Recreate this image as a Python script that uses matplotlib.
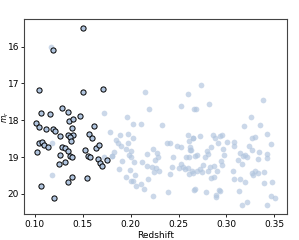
import matplotlib
matplotlib.use("Agg")
import matplotlib.pyplot as plt

# Bright / selected galaxies (dark-edged markers)
sel_z = [0.1504, 0.1191, 0.1042, 0.1498, 0.1710, 0.1060, 0.1157, 0.1279, 0.1341, 0.1473,
         0.1355, 0.1400, 0.1007, 0.1045, 0.1111, 0.1185, 0.1209, 0.1264, 0.1390, 0.1393,
         0.1348, 0.1370, 0.1379, 0.1619, 0.1567, 0.1595, 0.1042, 0.1070, 0.1097, 0.1136,
         0.1021, 0.1282, 0.1313, 0.1341, 0.1258, 0.1369, 0.1383, 0.1247, 0.1313, 0.1525,
         0.1557, 0.1577, 0.1640, 0.1668, 0.1654, 0.1678, 0.1699, 0.1755, 0.1383, 0.1344,
         0.1540, 0.1060, 0.1198]
sel_m = [15.50, 16.10, 17.18, 17.22, 17.16, 17.81, 17.84, 17.68, 17.78, 17.89,
         18.02, 17.97, 18.08, 18.17, 18.24, 18.24, 18.30, 18.43, 18.22, 18.40,
         18.40, 18.46, 18.57, 18.16, 18.36, 18.48, 18.62, 18.60, 18.68, 18.73,
         18.87, 18.72, 18.76, 18.84, 18.94, 18.97, 19.01, 19.18, 19.14, 18.82,
         18.97, 18.99, 18.76, 18.68, 19.06, 19.17, 19.23, 19.07, 19.54, 19.67,
         19.56, 19.79, 20.10]

# Background galaxies (light markers)
bg_z = [0.1164, 0.1174, 0.1180, 0.1720, 0.1807,
        0.1724, 0.2152, 0.2193, 0.2600, 0.2524, 0.2663, 0.1960, 0.2020, 0.2110, 0.2329,
        0.1786, 0.1887, 0.1968, 0.2020, 0.1846, 0.1870, 0.1900, 0.1968, 0.1950, 0.1999,
        0.1978, 0.1999, 0.1825, 0.1800, 0.1908, 0.2033, 0.1880, 0.1995, 0.2047, 0.1953,
        0.2002, 0.2020, 0.2051, 0.2110, 0.2138, 0.2235, 0.2390, 0.2183, 0.2120, 0.2166,
        0.2235, 0.2277, 0.2287, 0.2253, 0.2169, 0.2218, 0.2263, 0.2297, 0.2245, 0.2381,
        0.2409, 0.2441, 0.2427, 0.2412, 0.2485, 0.2524, 0.2611, 0.2600, 0.2652, 0.2615,
        0.2625, 0.2576, 0.2611, 0.2521, 0.2506, 0.2542, 0.2566, 0.2600, 0.2611, 0.2642,
        0.2663, 0.2670,
        0.2736, 0.2820, 0.2681, 0.3380, 0.3252, 0.3349, 0.3182, 0.3429, 0.3464, 0.3272,
        0.3296, 0.3231, 0.3262, 0.3341, 0.3419, 0.3425, 0.3147, 0.3175, 0.3192, 0.3210,
        0.3116, 0.3158, 0.3077, 0.3080, 0.3325, 0.3262, 0.3296, 0.3279, 0.3331, 0.3394,
        0.3070, 0.3080, 0.3140, 0.3192, 0.3394, 0.3477, 0.3130, 0.3463, 0.3505, 0.3425,
        0.3210, 0.3164, 0.3011, 0.2855, 0.2882, 0.2931, 0.2955, 0.2722, 0.2652, 0.2907,
        0.2837, 0.2966, 0.2792, 0.2810, 0.2775, 0.2688, 0.2618, 0.2976, 0.2942, 0.2949,
        0.2868, 0.2827, 0.2757, 0.2722, 0.2688, 0.2652, 0.2750, 0.2810, 0.2897, 0.2837,
        0.2872, 0.2924, 0.2938, 0.2886, 0.2886, 0.2782, 0.2677]
bg_m = [16.01, 18.61, 19.48, 18.99, 18.97,
        17.79, 17.24, 17.70, 17.28, 17.61, 17.70, 17.92, 18.10, 18.11, 18.14,
        18.33, 18.40, 18.38, 18.49, 18.55, 18.61, 18.70, 18.63, 18.78, 18.83,
        18.94, 18.99, 18.85, 18.98, 19.10, 19.14, 19.33, 19.36, 19.48, 19.54,
        19.66, 19.64, 19.78, 19.74, 19.88, 20.06, 19.96, 19.59, 19.14, 18.91,
        18.78, 18.89, 18.99, 19.08, 19.23, 19.26, 19.30, 19.37, 19.41, 18.61,
        18.62, 19.01, 19.26, 19.46, 18.70, 18.74, 18.56, 18.41, 18.49, 18.72,
        18.80, 18.99, 19.01, 19.19, 19.30, 19.28, 19.33, 19.30, 19.45, 19.37,
        19.89, 18.97,
        17.04, 17.56, 17.69, 17.46, 17.92, 18.13, 18.15, 18.37, 18.64, 18.49,
        18.46, 18.70, 18.80, 18.85, 18.91, 19.02, 18.88, 18.96, 18.94, 19.01,
        19.07, 19.19, 18.69, 18.58, 19.05, 19.44, 19.39, 19.48, 19.44, 19.41,
        19.39, 19.60, 19.59, 19.68, 19.70, 19.69, 19.92, 20.05, 20.10, 20.30,
        20.23, 20.30, 18.58, 18.41, 18.49, 18.43, 18.40, 18.42, 18.47, 18.62,
        18.73, 18.78, 18.83, 18.92, 19.01, 18.94, 18.80, 18.94, 19.12, 19.21,
        19.24, 19.26, 19.21, 19.33, 19.37, 19.42, 19.41, 19.37, 19.37, 19.56,
        19.53, 19.89, 19.92, 20.03, 20.08, 19.95, 19.87]

fig = plt.figure(figsize=(2.99, 2.40), dpi=100)
ax = fig.add_axes([0.080, 0.108, 0.879, 0.811])

ax.scatter(bg_z, bg_m, s=17, color="lightsteelblue", alpha=0.65, linewidths=0)
ax.scatter(sel_z, sel_m, s=14, facecolor="lightsteelblue", edgecolor="black",
           linewidths=0.7)

ax.set_xlim(0.0885, 0.363)
ax.set_ylim(20.55, 15.26)
ax.set_xticks([0.10, 0.15, 0.20, 0.25, 0.30, 0.35])
ax.set_yticks([16, 17, 18, 19, 20])
ax.tick_params(labelsize=6.5, length=2.5, width=0.6, pad=2)
ax.tick_params(axis="y", pad=1.0)
ax.set_xlabel("Redshift", fontsize=6.5, labelpad=1.5)
ax.set_ylabel("$m_r$", fontsize=5.5)
ax.yaxis.set_label_coords(-0.051, 0.5)
for sp in ax.spines.values():
    sp.set_linewidth(0.8)
    sp.set_color("#444444")

fig.savefig("out.png", dpi=100)
